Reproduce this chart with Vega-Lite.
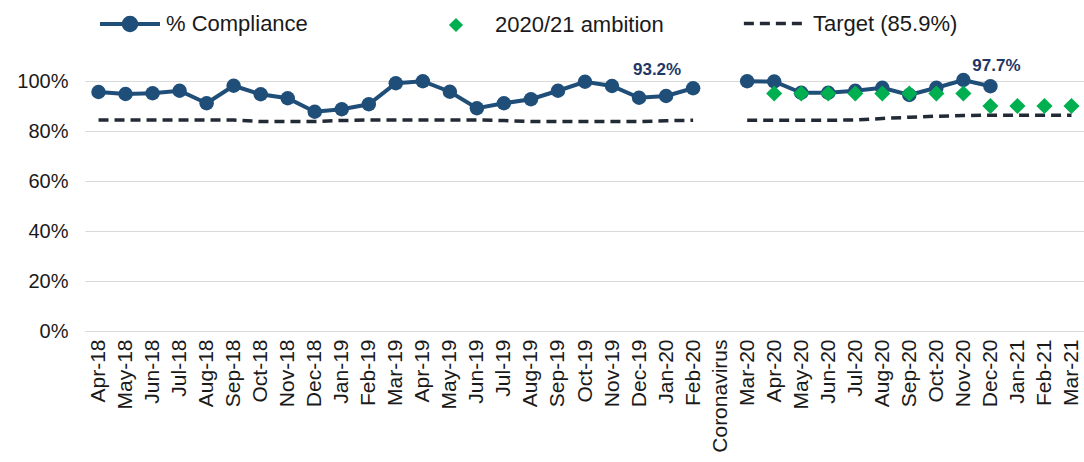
{
  "$schema": "https://vega.github.io/schema/vega-lite/v6.json",
  "width": 1000,
  "height": 250,
  "autosize": {"type": "none"},
  "padding": {"left": 85, "top": 81, "right": 0, "bottom": 131},
  "config": {
    "view": {"stroke": null},
    "font": "Liberation Sans",
    "mark": {"invalid": "break-paths-show-domains"},
    "legend": {"labelLimit": 0},
    "axisY": {
      "title": null,
      "values": [0, 0.2, 0.4, 0.6, 0.8, 1],
      "format": ".0%",
      "labelFontSize": 20,
      "labelColor": "#1a1a1a",
      "labelPadding": 17,
      "ticks": false,
      "domain": false,
      "grid": true,
      "gridColor": "#d9d9d9",
      "gridWidth": 1
    }
  },
  "data": {
    "values": [
      {"month": "Apr-18", "compliance": 0.956, "ambition": null, "target": 0.844, "label": null},
      {"month": "May-18", "compliance": 0.948, "ambition": null, "target": 0.844, "label": null},
      {"month": "Jun-18", "compliance": 0.951, "ambition": null, "target": 0.844, "label": null},
      {"month": "Jul-18", "compliance": 0.961, "ambition": null, "target": 0.844, "label": null},
      {"month": "Aug-18", "compliance": 0.911, "ambition": null, "target": 0.844, "label": null},
      {"month": "Sep-18", "compliance": 0.981, "ambition": null, "target": 0.844, "label": null},
      {"month": "Oct-18", "compliance": 0.947, "ambition": null, "target": 0.838, "label": null},
      {"month": "Nov-18", "compliance": 0.931, "ambition": null, "target": 0.838, "label": null},
      {"month": "Dec-18", "compliance": 0.877, "ambition": null, "target": 0.838, "label": null},
      {"month": "Jan-19", "compliance": 0.887, "ambition": null, "target": 0.842, "label": null},
      {"month": "Feb-19", "compliance": 0.907, "ambition": null, "target": 0.844, "label": null},
      {"month": "Mar-19", "compliance": 0.991, "ambition": null, "target": 0.844, "label": null},
      {"month": "Apr-19", "compliance": 0.999, "ambition": null, "target": 0.844, "label": null},
      {"month": "May-19", "compliance": 0.957, "ambition": null, "target": 0.844, "label": null},
      {"month": "Jun-19", "compliance": 0.891, "ambition": null, "target": 0.844, "label": null},
      {"month": "Jul-19", "compliance": 0.911, "ambition": null, "target": 0.842, "label": null},
      {"month": "Aug-19", "compliance": 0.927, "ambition": null, "target": 0.838, "label": null},
      {"month": "Sep-19", "compliance": 0.961, "ambition": null, "target": 0.838, "label": null},
      {"month": "Oct-19", "compliance": 0.997, "ambition": null, "target": 0.838, "label": null},
      {"month": "Nov-19", "compliance": 0.980, "ambition": null, "target": 0.838, "label": null},
      {"month": "Dec-19", "compliance": 0.933, "ambition": null, "target": 0.838, "label": null},
      {"month": "Jan-20", "compliance": 0.940, "ambition": null, "target": 0.841, "label": "93.2%"},
      {"month": "Feb-20", "compliance": 0.971, "ambition": null, "target": 0.843, "label": null},
      {"month": "Coronavirus", "compliance": null, "ambition": null, "target": null, "label": null},
      {"month": "Mar-20", "compliance": 0.999, "ambition": null, "target": 0.843, "label": null},
      {"month": "Apr-20", "compliance": 0.998, "ambition": 0.95, "target": 0.843, "label": null},
      {"month": "May-20", "compliance": 0.953, "ambition": 0.95, "target": 0.843, "label": null},
      {"month": "Jun-20", "compliance": 0.953, "ambition": 0.95, "target": 0.843, "label": null},
      {"month": "Jul-20", "compliance": 0.961, "ambition": 0.95, "target": 0.844, "label": null},
      {"month": "Aug-20", "compliance": 0.973, "ambition": 0.95, "target": 0.850, "label": null},
      {"month": "Sep-20", "compliance": 0.944, "ambition": 0.95, "target": 0.855, "label": null},
      {"month": "Oct-20", "compliance": 0.973, "ambition": 0.95, "target": 0.859, "label": null},
      {"month": "Nov-20", "compliance": 1.004, "ambition": 0.95, "target": 0.862, "label": null},
      {"month": "Dec-20", "compliance": 0.979, "ambition": 0.90, "target": 0.863, "label": "97.7%"},
      {"month": "Jan-21", "compliance": null, "ambition": 0.90, "target": 0.863, "label": null},
      {"month": "Feb-21", "compliance": null, "ambition": 0.90, "target": 0.863, "label": null},
      {"month": "Mar-21", "compliance": null, "ambition": 0.90, "target": 0.863, "label": null}
    ]
  },
  "encoding": {
    "x": {
      "field": "month",
      "type": "ordinal",
      "sort": null,
      "scale": {
        "type": "point",
        "padding": 0.5,
        "domain": ["Apr-18", "May-18", "Jun-18", "Jul-18", "Aug-18", "Sep-18", "Oct-18", "Nov-18", "Dec-18", "Jan-19", "Feb-19", "Mar-19", "Apr-19", "May-19", "Jun-19", "Jul-19", "Aug-19", "Sep-19", "Oct-19", "Nov-19", "Dec-19", "Jan-20", "Feb-20", "Coronavirus", "Mar-20", "Apr-20", "May-20", "Jun-20", "Jul-20", "Aug-20", "Sep-20", "Oct-20", "Nov-20", "Dec-20", "Jan-21", "Feb-21", "Mar-21"]
      },
      "axis": {
        "title": null,
        "labelAngle": -90,
        "labelFontSize": 21,
        "labelColor": "#1a1a1a",
        "labelPadding": 8,
        "labelLimit": 0,
        "ticks": false,
        "domain": true,
        "domainColor": "#d9d9d9",
        "grid": false
      }
    }
  },
  "layer": [
    {
      "mark": {"type": "line", "color": "#222b35", "strokeWidth": 3.5},
      "encoding": {
        "y": {
          "field": "target",
          "type": "quantitative",
          "scale": {"domain": [0, 1], "nice": false, "zero": true},
          "axis": {"title": null}
        },
        "strokeDash": {
          "datum": "Target (85.9%)",
          "scale": {"range": [[10, 6]]},
          "legend": {
            "title": null,
            "orient": "none",
            "legendX": 657,
            "legendY": -91,
            "symbolType": "stroke",
            "symbolSize": 4000,
            "symbolStrokeColor": "#222b35",
            "symbolStrokeWidth": 3.5,
            "labelFontSize": 22,
            "labelColor": "#1a1a1a",
            "labelOffset": 4,
            "labelLimit": 0
          }
        }
      }
    },
    {
      "mark": {
        "type": "line",
        "strokeWidth": 4,
        "point": {"filled": true, "size": 210}
      },
      "encoding": {
        "y": {"field": "compliance", "type": "quantitative", "axis": {"title": null}},
        "color": {
          "datum": "% Compliance",
          "scale": {"range": ["#1f4e79"]},
          "legend": {
            "title": null,
            "orient": "none",
            "legendX": 13,
            "legendY": -89,
            "symbolType": "M-1,0H1M0.21,0A0.21,0.21,0,1,1,-0.21,0A0.21,0.21,0,1,1,0.21,0Z",
            "symbolSize": 3600,
            "symbolFillColor": "#1f4e79",
            "symbolStrokeColor": "#1f4e79",
            "symbolStrokeWidth": 4,
            "labelFontSize": 22,
            "labelColor": "#1a1a1a",
            "labelOffset": 4,
            "labelLimit": 0
          }
        }
      }
    },
    {
      "mark": {"type": "point", "filled": true, "color": "#00b050", "size": 260, "opacity": 1},
      "encoding": {
        "y": {"field": "ambition", "type": "quantitative", "axis": {"title": null}},
        "shape": {
          "datum": "2020/21 ambition",
          "scale": {"range": ["diamond"]},
          "legend": {
            "title": null,
            "orient": "none",
            "legendX": 360,
            "legendY": -67,
            "symbolType": "M0,-1L0.55,0L0,1L-0.55,0Z",
            "symbolSize": 200,
            "symbolFillColor": "#00b050",
            "symbolStrokeColor": "#00b050",
            "symbolStrokeWidth": 0,
            "labelFontSize": 22,
            "labelColor": "#1a1a1a",
            "labelOffset": 28,
            "labelLimit": 0
          }
        }
      }
    },
    {
      "transform": [{"filter": "datum.month === 'Jan-20'"}],
      "mark": {"type": "text", "fontWeight": "bold", "fontSize": 17, "color": "#1f3864", "dx": -9, "dy": -26},
      "encoding": {
        "y": {"field": "compliance", "type": "quantitative", "axis": {"title": null}},
        "text": {"field": "label"}
      }
    },
    {
      "transform": [{"filter": "datum.month === 'Dec-20'"}],
      "mark": {"type": "text", "fontWeight": "bold", "fontSize": 17, "color": "#1f3864", "dx": 6, "dy": -20},
      "encoding": {
        "y": {"field": "compliance", "type": "quantitative", "axis": {"title": null}},
        "text": {"field": "label"}
      }
    }
  ]
}
